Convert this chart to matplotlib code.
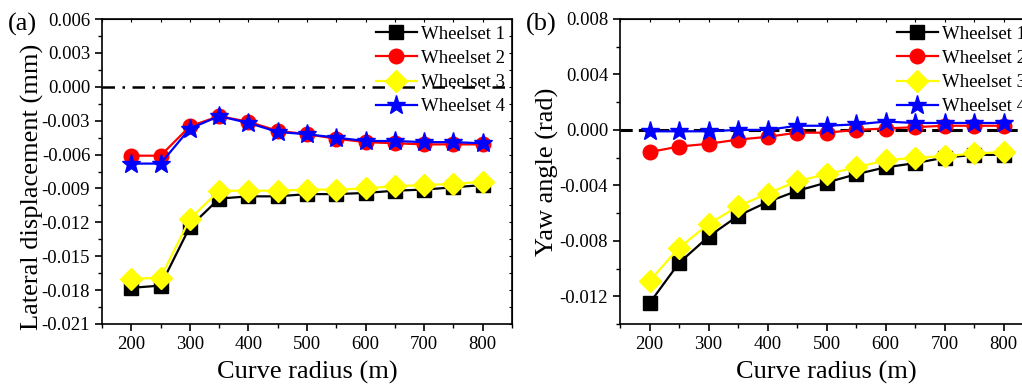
import matplotlib
matplotlib.use("Agg")
import matplotlib.pyplot as plt
import numpy as np
from matplotlib.ticker import MultipleLocator, FormatStrFormatter

plt.rcParams["font.family"] = ["Liberation Serif", "DejaVu Serif"]
plt.rcParams["mathtext.fontset"] = "stix"

# ---------------- DATA ----------------
radius = [200, 250, 300, 350, 400, 450, 500, 550, 600, 650, 700, 750, 800]
labels = ["Wheelset 1", "Wheelset 2", "Wheelset 3", "Wheelset 4"]

# (a) lateral displacement (mm)
lat_ws1 = [-0.0178, -0.0176, -0.0124, -0.0099, -0.0097, -0.0097, -0.0095,
           -0.0095, -0.0094, -0.0092, -0.0091, -0.0089, -0.0087]
lat_ws2 = [-0.0061, -0.0061, -0.0035, -0.0026, -0.0031, -0.0039, -0.0042,
           -0.0046, -0.0049, -0.0050, -0.0051, -0.0051, -0.0051]
lat_ws3 = [-0.0170, -0.0169, -0.0117, -0.0092, -0.0092, -0.0092, -0.0091,
           -0.0091, -0.0090, -0.0088, -0.0087, -0.0086, -0.0084]
lat_ws4 = [-0.0068, -0.0068, -0.0037, -0.0026, -0.0032, -0.0040, -0.0042,
           -0.0045, -0.0048, -0.0048, -0.0049, -0.0049, -0.0050]

# (b) yaw angle (rad)
yaw_ws1 = [-0.0125, -0.0096, -0.0077, -0.0062, -0.0052, -0.0044, -0.0038,
           -0.0032, -0.0027, -0.0024, -0.0020, -0.0018, -0.0018]
yaw_ws2 = [-0.0016, -0.0012, -0.0010, -0.0007, -0.0005, -0.0002, -0.0002,
           0.0000, 0.0001, 0.0002, 0.0003, 0.0003, 0.0003]
yaw_ws3 = [-0.0109, -0.0085, -0.0068, -0.0055, -0.0046, -0.0037, -0.0032,
           -0.0027, -0.0022, -0.0020, -0.0019, -0.0017, -0.0016]
yaw_ws4 = [-0.0001, -0.0001, -0.0001, 0.0000, 0.0000, 0.0003, 0.0003,
           0.0004, 0.0006, 0.0005, 0.0005, 0.0005, 0.0005]

colors = ["black", "red", "yellow", "blue"]
markers = ["s", "o", "D", "*"]
msizes = [9.5, 10.5, 11.5, 14]

# ---------------- FIGURE ----------------
fig = plt.figure(figsize=(10.22, 3.90), dpi=100)
ax1 = fig.add_axes([102 / 1022, 66 / 390, 410 / 1022, 305 / 390])
ax2 = fig.add_axes([620 / 1022, 66 / 390, 413 / 1022, 305 / 390])


def draw(ax, series, ylim, major, ylabel, zero_style, zero_lw, label_xy):
    ax.axhline(0, color="black", lw=zero_lw, linestyle=zero_style, zorder=1)
    for vals, c, m, ms, lab in zip(series, colors, markers, msizes, labels):
        ax.plot(radius, vals, color=c, marker=m, markersize=ms, lw=1.6,
                markeredgecolor=c, label=lab, zorder=3)
    ax.set_xlim(150, 850)
    ax.set_ylim(*ylim)
    ax.xaxis.set_major_locator(MultipleLocator(100))
    ax.xaxis.set_minor_locator(MultipleLocator(50))
    ax.yaxis.set_major_locator(MultipleLocator(major))
    ax.yaxis.set_minor_locator(MultipleLocator(major / 2))
    ax.yaxis.set_major_formatter(FormatStrFormatter("%.3f"))
    ax.tick_params(which="major", direction="out", length=5, width=1.2,
                   labelsize=13.5)
    ax.tick_params(which="minor", direction="out", length=3, width=1.0)
    for s in ax.spines.values():
        s.set_linewidth(1.2)
    # small inward ticks on top and right, no labels
    top = ax.secondary_xaxis("top")
    top.xaxis.set_major_locator(MultipleLocator(50))
    top.tick_params(direction="in", length=2.5, width=0.8, labeltop=False)
    right = ax.secondary_yaxis("right")
    right.yaxis.set_major_locator(MultipleLocator(major / 2))
    right.tick_params(direction="in", length=2.5, width=0.8, labelright=False)
    ax.set_xlabel("Curve radius (m)", fontsize=19, labelpad=6)
    ax.set_ylabel(ylabel, fontsize=19)
    ax.yaxis.set_label_coords(*label_xy)
    ax.legend(loc="upper right", frameon=False, fontsize=13.5,
              handlelength=2.2, handletextpad=0.25, labelspacing=0.38,
              borderaxespad=0.1, borderpad=0.25)


draw(ax1, [lat_ws1, lat_ws2, lat_ws3, lat_ws4], (-0.021, 0.006), 0.003,
     "Lateral displacement (mm)", (0, (5, 3, 1, 3)), 1.8, (-0.142, 0.45))
draw(ax2, [yaw_ws1, yaw_ws2, yaw_ws3, yaw_ws4], (-0.014, 0.008), 0.004,
     "Yaw angle (rad)", (0, (4, 2)), 2.2, (-0.148, 0.5))

fig.text(8 / 1022, 1 - 31 / 390, "(a)", fontsize=19)
fig.text(526 / 1022, 1 - 31 / 390, "(b)", fontsize=19)

fig.savefig("out.png", dpi=100)
